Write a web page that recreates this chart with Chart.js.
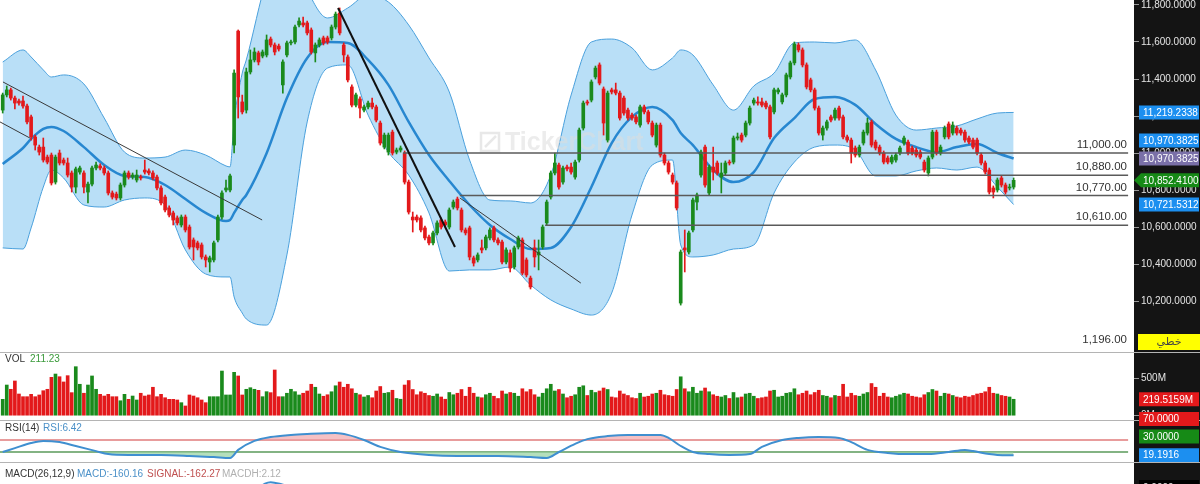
<!DOCTYPE html>
<html><head><meta charset="utf-8">
<script src="https://cdn.jsdelivr.net/npm/chart.js@4.4.1/dist/chart.umd.min.js"></script>
<style>
html,body{margin:0;padding:0;background:#fff;width:1200px;height:484px;overflow:hidden;position:relative;}
#axisbg{position:absolute;left:1134px;top:0;width:66px;height:484px;background:#141414;}
canvas{position:absolute;left:0;}
.sep{position:absolute;left:0;width:1200px;height:1px;background:#b4b4b4;}
</style></head><body>
<div id="axisbg"></div>
<div class="sep" style="top:352px"></div>
<div class="sep" style="top:420px"></div>
<div class="sep" style="top:462px"></div>
<canvas id="main" width="1200" height="352" style="top:0"></canvas>
<canvas id="vol" width="1200" height="67" style="top:353px"></canvas>
<canvas id="macd" width="1200" height="100" style="top:463px"></canvas>
<canvas id="rsi" width="1200" height="52" style="top:410px"></canvas>
<script>
// ---------------- DATA ----------------
const open = [11232,11314,11341,11297,11281,11281,11254,11195,11087,11032,11032,10978,10989,10843,11000,10962,10946,10892,10816,10897,10892,10789,10832,10919,10930,10919,10892,10784,10778,10757,10827,10892,10870,10854,10870,10908,10903,10892,10870,10811,10762,10703,10676,10649,10611,10654,10600,10530,10514,10503,10438,10411,10422,10530,10654,10800,10800,11043,11659,11276,11232,11438,11503,11541,11524,11530,11616,11584,11578,11368,11530,11595,11600,11692,11703,11703,11665,11541,11584,11622,11622,11622,11681,11757,11584,11519,11357,11259,11292,11232,11249,11270,11249,11162,11032,11005,11113,11005,11016,11000,10843,10654,10654,10649,10595,10546,10514,10568,10638,10627,10600,10708,10751,10692,10584,10595,10433,10422,10487,10487,10541,10595,10530,10519,10411,10460,10384,10492,10530,10422,10324,10487,10449,10492,10622,10762,10892,10935,10843,10924,10924,10870,10962,11135,11276,11286,11411,11476,11346,11070,11341,11341,11324,11297,11232,11205,11195,11151,11249,11222,11162,11043,11151,10989,10946,10881,10838,10189,10487,10465,10584,10735,10881,11032,10784,10924,10946,10870,10892,10951,10951,11081,11097,11097,11162,11270,11276,11276,11270,11249,11222,11330,11276,11314,11411,11487,11584,11557,11476,11395,11341,11243,11097,11135,11195,11189,11243,11195,11087,11070,11027,10989,11054,11108,11168,11059,11032,11000,10973,10951,10962,11000,11054,11059,11027,11016,11005,10951,10892,10978,11113,11000,11087,11157,11108,11135,11124,11113,11081,11070,11070,10989,10946,10908,10811,10800,10865,10827,10811,10816];
const close = [11314,11341,11297,11270,11270,11254,11168,11087,11043,11005,10962,10951,10838,10978,10946,10946,10881,10816,10914,10919,10816,10832,10919,10935,10919,10892,10784,10762,10757,10827,10892,10870,10881,10881,10865,10897,10892,10865,10811,10730,10692,10665,10638,10622,10654,10584,10492,10492,10487,10438,10422,10433,10514,10654,10784,10811,10876,11432,11303,11222,11438,11503,11546,11492,11546,11611,11584,11546,11562,11492,11595,11600,11681,11713,11692,11649,11546,11584,11611,11595,11600,11681,11751,11649,11530,11395,11259,11314,11243,11249,11270,11249,11178,11054,11097,11097,11000,11016,11027,10843,10681,10638,10638,10584,10541,10514,10568,10622,10600,10611,10692,10735,10703,10584,10568,10438,10405,10449,10476,10546,10584,10530,10514,10411,10476,10378,10487,10541,10351,10341,10276,10438,10465,10600,10735,10892,10946,10816,10919,10914,10897,10951,11124,11270,11270,11384,11459,11378,11162,11324,11330,11324,11189,11216,11189,11189,11168,11249,11222,11168,11097,11151,10989,10946,10897,10843,10703,10465,10476,10568,10746,10773,11005,10827,10924,10897,10892,10892,10946,10946,11081,11087,11070,11162,11243,11286,11270,11259,11249,11087,11341,11341,11314,11422,11487,11589,11557,11476,11357,11341,11243,11108,11135,11168,11178,11232,11189,11087,11070,11000,10989,11032,11113,11162,11043,11027,11000,10951,10951,10978,10989,11027,11081,11000,11000,10989,10978,10908,10973,11113,11000,11032,11135,11087,11151,11108,11108,11070,11059,11032,11000,10946,10897,10789,10789,10854,10827,10789,10816,10852.41];
const high = [11324,11362,11351,11308,11292,11308,11265,11205,11097,11043,11081,10989,11000,10989,11016,10973,10973,10903,10924,10930,10903,10843,10930,10951,10941,10930,10903,10795,10789,10838,10903,10903,10892,10908,10881,10962,10914,10903,10881,10822,10773,10714,10686,10660,10665,10665,10611,10541,10524,10514,10449,10443,10524,10665,10795,10854,10886,11449,11665,11313,11459,11557,11568,11551,11557,11638,11627,11595,11589,11503,11605,11611,11692,11730,11735,11713,11676,11595,11622,11632,11632,11692,11762,11784,11595,11530,11368,11324,11303,11259,11281,11297,11259,11173,11108,11108,11124,11027,11038,11011,10854,10681,10665,10660,10605,10557,10578,10633,10649,10638,10703,10746,10762,10703,10595,10605,10443,10460,10530,10557,10595,10605,10541,10530,10487,10476,10497,10551,10541,10433,10335,10530,10530,10611,10746,10903,11000,10946,10930,10935,10946,10962,11135,11281,11286,11395,11470,11487,11357,11335,11351,11378,11335,11308,11243,11216,11205,11259,11259,11232,11173,11162,11162,11000,10957,10892,10849,10476,10584,10578,10757,10784,11016,11043,10935,11032,10957,10946,10957,10962,11092,11108,11108,11173,11254,11297,11303,11297,11281,11259,11351,11351,11324,11432,11497,11600,11595,11568,11487,11405,11351,11254,11146,11178,11205,11243,11254,11205,11097,11081,11038,11043,11124,11189,11178,11070,11043,11011,10984,10989,11000,11038,11092,11070,11038,11027,11016,10962,10984,11124,11124,11043,11146,11168,11168,11146,11135,11124,11092,11081,11081,11000,10957,10919,10822,10865,10876,10838,10832,10865];
const low = [11216,11303,11286,11238,11259,11243,11157,11070,11016,10989,10951,10941,10827,10832,10935,10935,10870,10789,10784,10886,10784,10730,10822,10908,10908,10881,10773,10751,10746,10746,10816,10859,10859,10843,10854,10886,10881,10854,10800,10719,10681,10654,10611,10611,10600,10573,10481,10422,10476,10427,10384,10357,10411,10519,10643,10789,10789,11000,11189,11211,11216,11427,11492,11476,11514,11519,11573,11530,11551,11324,11519,11584,11589,11681,11681,11638,11535,11492,11573,11584,11589,11611,11670,11638,11492,11384,11249,11249,11189,11222,11238,11238,11168,11043,11022,10989,10989,10995,11005,10832,10670,10573,10627,10573,10530,10503,10503,10557,10589,10600,10589,10697,10692,10573,10557,10422,10389,10411,10460,10476,10530,10519,10503,10400,10400,10357,10373,10481,10341,10330,10265,10384,10368,10481,10611,10751,10881,10805,10832,10903,10886,10859,10951,11124,11259,11276,11400,11368,11097,11059,11319,11314,11178,11205,11178,11178,11157,11140,11211,11157,11087,11032,10978,10935,10886,10832,10692,10178,10357,10454,10573,10692,10870,10816,10773,10854,10881,10784,10881,10935,10941,11070,11059,11087,11151,11259,11259,11249,11238,11076,11211,11319,11265,11303,11400,11476,11546,11465,11346,11330,11232,11097,11070,11124,11168,11178,11178,11076,11059,10946,10978,10978,11043,11097,11032,11016,10989,10941,10941,10941,10951,10989,11043,10989,10989,10978,10968,10897,10876,10968,10989,10989,11076,11076,11097,11097,11097,11059,11049,11022,10989,10935,10886,10778,10757,10789,10816,10778,10800,10805];
const volume = [219,410,353,464,290,254,254,286,254,277,334,353,513,557,521,451,535,308,655,420,300,410,531,353,286,263,286,254,254,200,286,219,263,210,300,263,277,380,254,286,240,219,219,210,174,130,277,263,240,210,174,254,254,254,597,277,277,580,531,277,353,374,353,339,254,321,308,611,254,254,300,353,321,277,
300,330,420,380,290,260,280,320,400,450,380,420,360,300,280,250,270,240,330,390,300,310,340,230,220,410,470,350,280,320,300,270,260,290,250,220,310,280,300,350,260,380,300,250,240,280,300,260,230,330,290,310,300,260,360,320,350,280,250,300,360,420,330,350,290,240,260,280,380,400,270,340,310,330,370,350,250,240,330,290,270,240,230,300,250,260,290,300,340,280,270,260,350,520,360,320,380,300,330,370,320,280,260,250,270,230,310,240,250,290,300,260,230,240,250,330,340,250,260,300,310,360,280,300,330,280,310,340,270,260,240,270,260,420,250,300,270,260,290,310,430,380,260,300,250,240,260,280,300,290,260,250,240,280,310,350,330,260,300,290,270,250,240,260,250,270,290,300,320,380,300,290,270,260,250,219.5159];
const bandX     = [0,5,7,10,12,15,20,25,30,35,40,45,50,55,56,57,59,60,65,70,75,80,85,90,95,100,105,110,115,120,125,130,135,140,145,150,155,160,165,167,170,175,180,185,190,195,200,205,210,215,220,225,230,235,240,245,249];
const bandUpper = [11492,11557,11519,11449,11411,11422,11373,11189,11005,10973,10978,11016,10989,10930,10925,11173,11432,11503,11935,12151,11881,11730,11784,11854,11816,11692,11514,11330,10962,10746,10741,10730,10881,11313,11600,11616,11568,11449,11514,11557,11530,11368,11232,11362,11432,11595,11600,11595,11611,11449,11205,11124,11135,11146,11184,11216,11219.2338];
const bandMid   = [10941,11027,11076,11130,11141,11119,11032,10935,10876,10870,10827,10751,10676,10632,10638,10676,10746,10773,10999,11297,11514,11600,11595,11503,11368,11168,10989,10849,10719,10611,10535,10481,10487,10600,10816,11054,11195,11249,11178,11108,11043,10908,10843,10897,11081,11189,11292,11303,11260,11157,11076,11032,11005,11032,11049,11000,10970.3825];
const bandLower = [10487,10481,10595,10816,10908,10865,10719,10708,10746,10757,10719,10476,10346,10330,10330,10222,10135,10103,10070,10449,11168,11459,11476,11205,11005,10881,10676,10362,10368,10368,10384,10287,10206,10157,10124,10243,10665,10935,10962,10503,10438,10449,10481,10503,10784,10951,11032,11043,11016,10876,10876,10903,10919,10908,10924,10816,10721.5312];
// RSI(14)
const rsiX   = [0,3,7,10,14,18,23,26,31,39,46,52,56,58,62,66,71,75,82,85,89,93,98,105,112,122,130,134,137,141,144,149,154,162,164,167,170,174,179,184,187,192,196,201,206,209,213,218,223,228,233,237,239,243,245,249];
const rsiVal = [30,43,60,67,63,50,33,23,20,20,17,13,10,37,67,80,87,90,93,87,70,47,30,20,17,17,13,10,30,57,73,83,87,87,77,50,30,23,20,23,47,70,77,80,77,63,37,27,23,23,30,37,33,23,20,19.1916];
// MACD(26,12,9)
const macdX   = [0,20,40,50,56,60,63,66,69,72,80,100,120,140,155,165,170,180,195,210,230,249];
const macdVal = [-40,-60,-110,-150,-120,60,150,185,170,150,120,20,-140,-150,100,90,-20,-60,60,40,-60,-160.16];
const sigVal  = [-30,-50,-90,-130,-130,-60,20,80,120,140,130,60,-90,-150,20,80,30,-30,20,40,-30,-162.27];
// drawn levels and trend lines
const levelValues = [11000, 10880, 10770, 10610];
const levelStart  = [98.6, 177.4, 112.6, 133.6];
const extraLevel  = 1196;
const trendLines  = [ // [x1, price1, x2, price2, width]
  [0.07, 11384, 63.9, 10638, 1],
  [-0.66, 11168, 6.7, 11081, 1],
  [82.6, 11784, 111.4, 10492, 2],
  [112.6, 10757, 142.4, 10297, 1]
];
const priceTicks = [10200, 10400, 10600, 10800, 11000, 11200, 11400, 11600, 11800];
const volTicks = [0, 500];
const rsiLevels = [70, 30];

// ---------------- STYLE / LAYOUT ----------------
const GREEN = '#1a8a1c', RED = '#e3191b';
const XMIN = -0.665, XMAX = 278.65, XEND = 277.2;
const YMAX = 11827, YMIN = 11827 - 352 * 5.405;
const FONT = '"Liberation Sans", Arial, sans-serif';
Chart.defaults.font.family = FONT;
Chart.defaults.animation = false;
Chart.defaults.events = [];
Chart.defaults.plugins.legend.display = false;
Chart.defaults.plugins.tooltip.enabled = false;

const idx = close.map((_, i) => i);
const isUp = i => close[i] >= open[i];
const candleColor = c => isUp(c.dataIndex) ? GREEN : RED;
const fmt = (v, d) => v.toLocaleString('en-US', {minimumFractionDigits: d, maximumFractionDigits: d});
const xScale = {type: 'linear', min: XMIN, max: XMAX, display: false, offset: false};
const rightAxis = (extra) => Object.assign({
  position: 'right',
  border: {display: false},
  grid: {drawOnChartArea: false, drawTicks: true, tickLength: 5, color: '#999'},
  afterFit: s => { s.width = 66; s.paddingTop = 0; s.paddingBottom = 0; }
}, extra);

function box(ctx, y, text, bg, fg, arrow) {
  const x0 = 1139, w = 60, h = 14;
  ctx.save();
  ctx.fillStyle = bg;
  ctx.beginPath();
  if (arrow) {
    ctx.moveTo(1134, y); ctx.lineTo(1141, y - h / 2); ctx.lineTo(x0 + w, y - h / 2);
    ctx.lineTo(x0 + w, y + h / 2); ctx.lineTo(1141, y + h / 2); ctx.closePath();
  } else ctx.rect(x0, y - h / 2, w, h);
  ctx.fill();
  ctx.fillStyle = fg; ctx.font = '10px ' + FONT; ctx.textBaseline = 'middle'; ctx.textAlign = 'left';
  ctx.fillText(text, x0 + 4, y + 0.5);
  ctx.restore();
}
function labelRow(ctx, y, parts) {
  ctx.save(); ctx.font = '10px ' + FONT; ctx.textBaseline = 'middle'; ctx.textAlign = 'left';
  parts.forEach(p => { ctx.fillStyle = p[2]; ctx.fillText(p[0], p[1], y); });
  ctx.restore();
}
function line2(x1, y1, x2, y2, color, w) {
  return {type: 'line', data: [{x: x1, y: y1}, {x: x2, y: y2}], borderColor: color, borderWidth: w,
          pointRadius: 0, fill: false, order: -1};
}

// ---------------- MAIN ----------------
const mainPlugin = {
  id: 'mainOverlay',
  afterDatasetDraw(chart, args) {
    if (args.index !== 2) return;
    const ctx = chart.ctx;
    ctx.save();
    ctx.globalAlpha = 0.55;
    ctx.strokeStyle = '#d6d6d6'; ctx.lineWidth = 2.5;
    ctx.strokeRect(481, 133, 18, 18);
    ctx.beginPath(); ctx.moveTo(485, 147); ctx.lineTo(496, 136); ctx.stroke();
    ctx.fillStyle = '#dcdcdc'; ctx.font = 'bold 25px ' + FONT; ctx.textBaseline = 'middle';
    ctx.fillText('TickerChart', 505, 143);
    ctx.restore();
  },
  afterDraw(chart) {
    const ctx = chart.ctx, ys = chart.scales.y;
    ctx.save();
    ctx.font = '11.5px ' + FONT; ctx.fillStyle = '#333'; ctx.textAlign = 'right'; ctx.textBaseline = 'middle';
    levelValues.forEach(v => ctx.fillText(fmt(v, 2), 1127, ys.getPixelForValue(v) - 8));
    ctx.fillText(fmt(extraLevel, 2), 1127, 340);
    ctx.fillStyle = '#ffff00'; ctx.fillRect(1138, 334, 62, 16);
    ctx.fillStyle = '#444'; ctx.textAlign = 'center'; ctx.font = '11px "DejaVu Sans", sans-serif';
    ctx.fillText('خطي', 1169, 342);
    ctx.restore();
    const last = close.length - 1;
    box(ctx, ys.getPixelForValue(bandUpper[bandUpper.length - 1]), fmt(bandUpper[bandUpper.length - 1], 4), '#1c8ff0', '#fff');
    box(ctx, ys.getPixelForValue(bandMid[bandMid.length - 1]) - 18, fmt(bandMid[bandMid.length - 1], 4), '#1c8ff0', '#fff');
    box(ctx, ys.getPixelForValue(bandMid[bandMid.length - 1]), fmt(bandMid[bandMid.length - 1], 4), '#7a70a8', '#fff');
    box(ctx, ys.getPixelForValue(close[last]), fmt(close[last], 4), '#168a16', '#fff', true);
    box(ctx, ys.getPixelForValue(bandLower[bandLower.length - 1]), fmt(bandLower[bandLower.length - 1], 4), '#1c8ff0', '#fff');
  }
};

const mainDatasets = [
  {type: 'bar', data: idx.map(i => ({x: i, y: [low[i], high[i]]})), backgroundColor: candleColor,
   barThickness: 1, grouped: false, order: 1},
  {type: 'bar', data: idx.map(i => ({x: i, y: [open[i], close[i]]})), backgroundColor: candleColor,
   barThickness: 3, minBarLength: 1, grouped: false, order: 0},
  {type: 'line', data: bandX.map((x, k) => ({x, y: bandUpper[k]})), borderColor: '#4aa0dc', borderWidth: 1,
   pointRadius: 0, cubicInterpolationMode: 'monotone', fill: '+2', backgroundColor: '#b9dff7', order: 7},
  {type: 'line', data: bandX.map((x, k) => ({x, y: bandMid[k]})), borderColor: '#2787d0', borderWidth: 2.5,
   pointRadius: 0, cubicInterpolationMode: 'monotone', fill: false, order: 5},
  {type: 'line', data: bandX.map((x, k) => ({x, y: bandLower[k]})), borderColor: '#4aa0dc', borderWidth: 1,
   pointRadius: 0, cubicInterpolationMode: 'monotone', fill: false, order: 6}
];
trendLines.forEach(t => mainDatasets.push(line2(t[0], t[1], t[2], t[3], t[4] > 1 ? '#111' : '#3a3a3a', t[4])));
levelValues.forEach((v, k) => mainDatasets.push(line2(levelStart[k], v, XEND, v, '#5a5a5a', 1.5)));

new Chart(document.getElementById('main'), {
  type: 'bar',
  data: {datasets: mainDatasets},
  options: {
    responsive: false, layout: {padding: 0},
    scales: {
      x: xScale,
      y: rightAxis({min: YMIN, max: YMAX,
        afterBuildTicks: s => { s.ticks = priceTicks.map(v => ({value: v})); },
        ticks: {autoSkip: false, color: '#e4e4e4', padding: 2, font: {size: 10}, callback: v => fmt(v, 4)}})
    }
  },
  plugins: [mainPlugin]
});

// ---------------- VOLUME ----------------
new Chart(document.getElementById('vol'), {
  type: 'bar',
  data: {datasets: [{data: idx.map(i => ({x: i, y: volume[i]})), backgroundColor: candleColor,
                     barThickness: 3, grouped: false}]},
  options: {
    responsive: false, layout: {padding: 0},
    scales: {
      x: xScale,
      y: rightAxis({min: -57.5, max: 838,
        afterBuildTicks: s => { s.ticks = volTicks.map(v => ({value: v})); },
        ticks: {autoSkip: false, color: '#e4e4e4', padding: 2, font: {size: 10}, callback: v => v + 'M'}})
    }
  },
  plugins: [{
    id: 'volOverlay',
    afterDraw(chart) {
      const ctx = chart.ctx;
      labelRow(ctx, 6.5, [['VOL', 5, '#333'], ['211.23', 30, '#3a9a3a']]);
      const v = volume[volume.length - 1];
      box(ctx, chart.scales.y.getPixelForValue(v), fmt(v, 4) + 'M', '#e3191b', '#fff');
    }
  }]
});

// ---------------- RSI ----------------
const rsiData = rsiX.map((x, k) => ({x, y: rsiVal[k]}));
new Chart(document.getElementById('rsi'), {
  type: 'line',
  data: {datasets: [
    {data: rsiData, borderColor: '#3f8fd0', borderWidth: 2, pointRadius: 0, cubicInterpolationMode: 'monotone',
     fill: {target: {value: rsiLevels[0]}, above: 'rgba(240,160,165,0.65)', below: 'rgba(0,0,0,0)'}, order: 0},
    {data: rsiData, borderWidth: 0, borderColor: 'rgba(0,0,0,0)', pointRadius: 0, cubicInterpolationMode: 'monotone',
     fill: {target: {value: rsiLevels[1]}, above: 'rgba(0,0,0,0)', below: 'rgba(150,210,160,0.7)'}, order: 1},
    {data: [{x: XMIN, y: rsiLevels[0]}, {x: XEND, y: rsiLevels[0]}], borderColor: '#e07b7b', borderWidth: 1.5, pointRadius: 0, order: 2},
    {data: [{x: XMIN, y: rsiLevels[1]}, {x: XEND, y: rsiLevels[1]}], borderColor: '#5a9a5a', borderWidth: 1.5, pointRadius: 0, order: 2}
  ]},
  options: {
    responsive: false, layout: {padding: {top: 11}},
    scales: {
      x: xScale,
      y: rightAxis({min: -3.33, max: 133.33, grid: {display: false}, ticks: {display: false}})
    }
  },
  plugins: [{
    id: 'rsiOverlay',
    afterDraw(chart) {
      const ctx = chart.ctx, ys = chart.scales.y;
      labelRow(ctx, 18, [['RSI(14)', 5, '#333'], ['RSI:6.42', 43, '#4a90c8']]);
      ctx.save(); ctx.fillStyle = '#cfcfcf'; ctx.font = '10px ' + FONT; ctx.textBaseline = 'middle';
      ctx.fillText('0.0000', 1143, ys.getPixelForValue(0)); ctx.restore();
      box(ctx, ys.getPixelForValue(rsiLevels[0]) - 21, fmt(rsiLevels[0], 4), '#e3191b', '#fff');
      box(ctx, ys.getPixelForValue(rsiLevels[1]) - 15.5, fmt(rsiLevels[1], 4), '#168a16', '#fff');
      const r = rsiVal[rsiVal.length - 1];
      box(ctx, ys.getPixelForValue(r), fmt(r, 4), '#1c8ff0', '#fff');
    }
  }]
});

// ---------------- MACD ----------------
new Chart(document.getElementById('macd'), {
  type: 'line',
  data: {datasets: [
    {data: macdX.map((x, k) => ({x, y: macdVal[k]})), borderColor: '#3f8fd0', borderWidth: 2, pointRadius: 0, cubicInterpolationMode: 'monotone'},
    {data: macdX.map((x, k) => ({x, y: sigVal[k]})), borderColor: '#d05050', borderWidth: 1.5, pointRadius: 0, cubicInterpolationMode: 'monotone'}
  ]},
  options: {
    responsive: false, layout: {padding: 0},
    scales: {x: xScale, y: rightAxis({min: -300, max: 300, grid: {display: false}, ticks: {display: false}})}
  },
  plugins: [{
    id: 'macdOverlay',
    afterDraw(chart) {
      const ctx = chart.ctx;
      labelRow(ctx, 11, [['MACD(26,12,9)', 5, '#333'], ['MACD:-160.16', 77, '#4a90c8'],
                         ['SIGNAL:-162.27', 147, '#c05050'], ['MACDH:2.12', 222, '#b0b0b0']]);
      ctx.save(); ctx.fillStyle = '#000'; ctx.fillRect(1139, 17, 60, 16);
      ctx.fillStyle = '#e4e4e4'; ctx.font = '10px ' + FONT; ctx.textBaseline = 'middle';
      ctx.fillText('0.0000', 1143, 25); ctx.restore();
    }
  }]
});
</script>
</body></html>
